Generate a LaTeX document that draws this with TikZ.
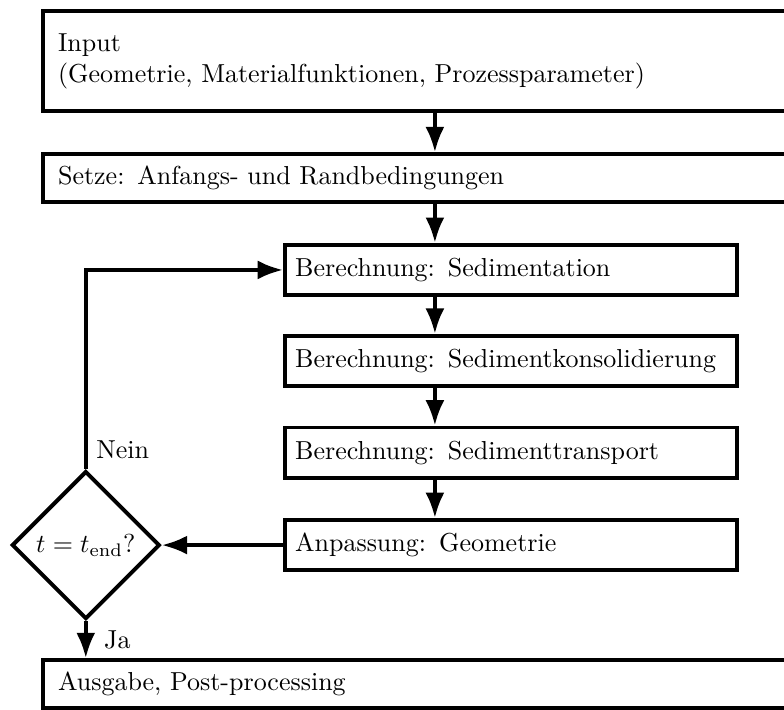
\documentclass[tikz,border=0pt]{standalone}
\usepackage{amssymb, amsmath}
\usepackage{tikz}
\usetikzlibrary{arrows.meta, shapes.geometric, positioning}

\begin{document}
\begin{tikzpicture}[line width=1.5pt,
    widebox/.style={draw, rectangle, text width=10.19cm, align=left, inner xsep=5.8pt},
    smallbox/.style={draw, rectangle, text width=5.84cm, align=left, inner xsep=3.9pt, minimum height=0.68cm},
    decision/.style={draw, diamond, minimum width=2cm, minimum height=2cm, inner sep=0pt},
    flow/.style={-{Latex}}]

    \path[use as bounding box, clip] (0, 0) rectangle (10.6, -9.59);

    \node[widebox, minimum height=1.35cm] (input) at (5.88, -0.825)
        {Input\\(Geometrie, Materialfunktionen, Prozessparameter)};
    \node[widebox, minimum height=0.65cm] (setze) at (5.88, -2.41)
        {Setze: Anfangs- und Randbedingungen};

    \node[smallbox] (sedi) at (6.91, -3.65) {Berechnung: Sedimentation};
    \node[smallbox] (konsol) at (6.91, -4.88) {Berechnung: Sedimentkonsolidierung};
    \node[smallbox] (transport) at (6.91, -6.12) {Berechnung: Sedimenttransport};
    \node[smallbox] (anpass) at (6.91, -7.37) {Anpassung: Geometrie};

    \node[decision] (check) at (1.16, -7.37) {$t = t_{\mathrm{end}}$?};

    \node[widebox, minimum height=0.65cm] (ausgabe) at (5.88, -9.25)
        {Ausgabe, Post-processing};

    \draw[flow] (input.south) -- (setze.north);
    \draw[flow] (setze.south) -- (setze.south |- sedi.north);
    \draw[flow] (sedi.south -| input.south) -- (konsol.north -| input.south);
    \draw[flow] (konsol.south -| input.south) -- (transport.north -| input.south);
    \draw[flow] (transport.south -| input.south) -- (anpass.north -| input.south);
    \draw[flow] (anpass.west) -- (check.east);
    \draw[flow] (check.north) |- (sedi.west);
    \draw[flow] (check.south) -- (ausgabe.north -| check.south)
        node[midway, right=3pt] (ja) {Ja};

    \node[above right] (nein) at (check.north) {Nein};

\end{tikzpicture}
\end{document}
